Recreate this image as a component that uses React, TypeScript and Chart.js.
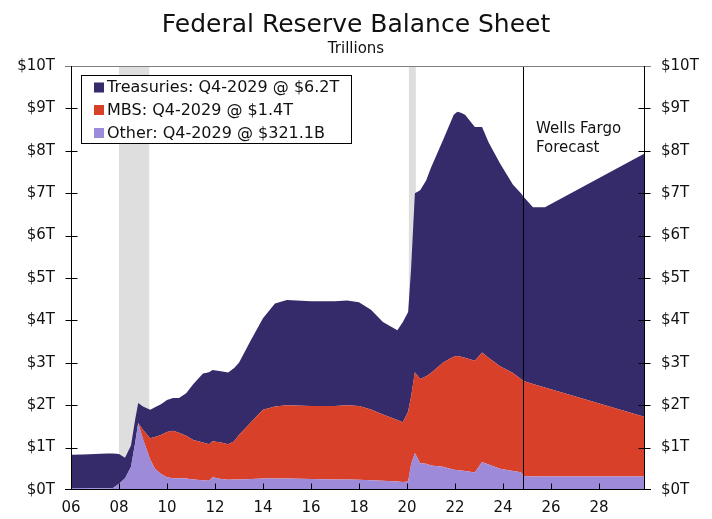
import React, { useEffect, useRef } from "react";
import { Chart, registerables } from "chart.js";

Chart.register(...registerables);

// ---- Data (trillions of dollars) ----
const dates = [
  2006.0, 2006.5, 2007.0, 2007.5, 2007.75, 2008.0, 2008.25, 2008.5, 2008.67, 2008.8,
  2009.0, 2009.3, 2009.5, 2009.75, 2010.0, 2010.25, 2010.5, 2010.8, 2011.1, 2011.5,
  2011.75, 2011.9, 2012.25, 2012.55, 2012.8, 2013.0, 2013.5, 2014.0, 2014.5, 2015.0,
  2016.0, 2017.0, 2017.5, 2018.0, 2018.5, 2019.0, 2019.6, 2019.83, 2020.05, 2020.17,
  2020.33, 2020.55, 2020.8, 2021.0, 2021.5, 2021.8, 2021.95, 2022.1, 2022.25, 2022.42,
  2022.83, 2023.13, 2023.4, 2023.88, 2024.42, 2024.75, 2024.85, 2025.25, 2025.75, 2029.92,
];

const treasuries = [
  0.78, 0.79, 0.81, 0.82, 0.81, 0.70, 0.48, 0.50, 0.55, 0.47,
  0.55, 0.67, 0.70, 0.72, 0.75, 0.77, 0.82, 1.00, 1.32, 1.63,
  1.70, 1.68, 1.68, 1.69, 1.73, 1.70, 1.94, 2.16, 2.43, 2.48,
  2.47, 2.47, 2.47, 2.45, 2.35, 2.18, 2.12, 2.36, 2.35, 3.00,
  4.22, 4.45, 4.62, 4.84, 5.25, 5.55, 5.71, 5.76, 5.76, 5.73,
  5.51, 5.32, 5.08, 4.78, 4.44, 4.38, 4.35, 4.17, 4.25, 6.22,
];

const mbs = [
  0, 0, 0, 0, 0, 0, 0, 0, 0, 0,
  0.22, 0.50, 0.75, 0.92, 1.07, 1.12, 1.07, 1.01, 0.93, 0.89,
  0.86, 0.85, 0.86, 0.84, 0.90, 1.05, 1.34, 1.62, 1.70, 1.73,
  1.72, 1.73, 1.75, 1.74, 1.67, 1.56, 1.45, 1.41, 1.65, 1.60,
  1.91, 1.99, 2.06, 2.18, 2.45, 2.60, 2.66, 2.69, 2.68, 2.67,
  2.64, 2.58, 2.52, 2.42, 2.31, 2.20, 2.24, 2.18, 2.10, 1.40,
];

const other = [
  0.05, 0.05, 0.04, 0.04, 0.05, 0.15, 0.28, 0.55, 1.10, 1.58,
  1.20, 0.72, 0.50, 0.38, 0.30, 0.28, 0.28, 0.27, 0.25, 0.23,
  0.22, 0.30, 0.26, 0.24, 0.25, 0.25, 0.26, 0.27, 0.27, 0.27,
  0.26, 0.25, 0.25, 0.24, 0.23, 0.22, 0.20, 0.19, 0.20, 0.60,
  0.87, 0.63, 0.62, 0.58, 0.55, 0.50, 0.48, 0.47, 0.46, 0.45,
  0.41, 0.66, 0.60, 0.50, 0.45, 0.42, 0.33, 0.32, 0.32, 0.32,
];

const seriesNames = ["Treasuries", "MBS", "Other"];
const legendLabels = [
  "Treasuries: Q4-2029 @ $6.2T",
  "MBS: Q4-2029 @ $1.4T",
  "Other: Q4-2029 @ $321.1B",
];
const xTickYears = [2006, 2008, 2010, 2012, 2014, 2016, 2018, 2020, 2022, 2024, 2026, 2028];
const yTickValues = [0, 1, 2, 3, 4, 5, 6, 7, 8, 9, 10];
const recessions = [
  [2008.0, 2009.26],
  [2020.08, 2020.37],
];
const forecastStart = 2024.85;
const xMin = 2006;
const xMax = 2029.92;

const COLORS = {
  Treasuries: "#352b6a",
  MBS: "#d9402a",
  Other: "#9d8bd9",
};
const FONT = "'DejaVu Sans', Verdana, sans-serif";

function pts(values: number[]) {
  return dates.map((d, i) => ({ x: d, y: values[i] }));
}

const decorPlugin = {
  id: "decor",
  beforeDatasetsDraw(chart: any) {
    const { ctx, chartArea, scales } = chart;
    const x = scales.x;
    ctx.save();
    ctx.fillStyle = "#dedede";
    for (const [a, b] of recessions) {
      const x0 = x.getPixelForValue(a);
      const x1 = x.getPixelForValue(b);
      ctx.fillRect(x0, chartArea.top, x1 - x0, chartArea.bottom - chartArea.top);
    }
    ctx.restore();
  },
  afterDatasetsDraw(chart: any) {
    const { ctx, chartArea, scales } = chart;
    const { left, right, top, bottom } = chartArea;
    const x = scales.x;
    const y = scales.y;
    ctx.save();

    // forecast line
    const fx = Math.round(x.getPixelForValue(forecastStart)) + 0.5;
    ctx.strokeStyle = "#000";
    ctx.lineWidth = 1;
    ctx.beginPath();
    ctx.moveTo(fx, top);
    ctx.lineTo(fx, bottom);
    ctx.stroke();

    ctx.fillStyle = "#111";
    ctx.font = `15px ${FONT}`;
    ctx.textAlign = "left";
    ctx.textBaseline = "alphabetic";
    ctx.fillText("Wells Fargo", fx + 12.5, 133);
    ctx.fillText("Forecast", fx + 12.5, 152);

    // top border (gray)
    ctx.strokeStyle = "#808080";
    ctx.beginPath();
    ctx.moveTo(left - 6, top + 0.5);
    ctx.lineTo(right + 6, top + 0.5);
    ctx.stroke();

    // axes
    ctx.strokeStyle = "#000";
    const lx = Math.round(left) + 0.5;
    const rx = Math.round(right) - 0.5;
    const by = Math.round(bottom) - 0.5;
    ctx.beginPath();
    ctx.moveTo(lx, top);
    ctx.lineTo(lx, bottom);
    ctx.moveTo(rx, top);
    ctx.lineTo(rx, bottom);
    ctx.moveTo(left - 6, by);
    ctx.lineTo(right + 6, by);
    ctx.stroke();

    // y ticks (crossing both axes)
    ctx.beginPath();
    for (const v of yTickValues) {
      if (v === 0 || v === 10) continue;
      const py = Math.round(y.getPixelForValue(v)) + 0.5;
      ctx.moveTo(lx - 6, py);
      ctx.lineTo(lx + 6, py);
      ctx.moveTo(rx - 6, py);
      ctx.lineTo(rx + 6, py);
    }
    // x ticks (inward)
    for (const v of xTickYears) {
      const px = Math.round(x.getPixelForValue(v)) + 0.5;
      ctx.moveTo(px, by);
      ctx.lineTo(px, by - 6);
    }
    ctx.stroke();
    ctx.restore();
  },
  afterDraw(chart: any) {
    const { ctx } = chart;
    ctx.save();
    // title
    ctx.fillStyle = "#111";
    ctx.textAlign = "center";
    ctx.textBaseline = "alphabetic";
    ctx.font = `25px ${FONT}`;
    ctx.fillText("Federal Reserve Balance Sheet", 356, 32);
    ctx.font = `15px ${FONT}`;
    ctx.fillText("Trillions", 356, 53);

    // legend
    const bx = 81.5, byy = 75.5, bw = 270, bh = 68;
    ctx.fillStyle = "#fff";
    ctx.fillRect(bx, byy, bw, bh);
    ctx.strokeStyle = "#000";
    ctx.lineWidth = 1;
    ctx.strokeRect(bx, byy, bw, bh);
    ctx.font = `16px ${FONT}`;
    ctx.textAlign = "left";
    const baselines = [92, 114.5, 137.5];
    seriesNames.forEach((name, i) => {
      ctx.fillStyle = (COLORS as any)[name];
      ctx.fillRect(94, baselines[i] - 9.5, 10, 10);
      ctx.fillStyle = "#111";
      ctx.fillText(legendLabels[i], 107, baselines[i]);
    });
    ctx.restore();
  },
};

export default function App() {
  const ref = useRef<HTMLCanvasElement | null>(null);

  useEffect(() => {
    if (!ref.current) return;
    const chart = new Chart(ref.current, {
      type: "line",
      data: {
        datasets: [
          {
            label: "Other",
            data: pts(other),
            backgroundColor: COLORS.Other,
            borderColor: "transparent",
            borderWidth: 0,
            pointRadius: 0,
            fill: "origin",
            tension: 0,
          },
          {
            label: "MBS",
            data: pts(mbs),
            backgroundColor: COLORS.MBS,
            borderColor: "transparent",
            borderWidth: 0,
            pointRadius: 0,
            fill: "-1",
            tension: 0,
          },
          {
            label: "Treasuries",
            data: pts(treasuries),
            backgroundColor: COLORS.Treasuries,
            borderColor: "transparent",
            borderWidth: 0,
            pointRadius: 0,
            fill: "-1",
            tension: 0,
          },
        ],
      },
      options: {
        responsive: false,
        animation: false,
        devicePixelRatio: 1,
        layout: { padding: { top: 66, left: 0, right: 0, bottom: 0 } },
        plugins: {
          legend: { display: false },
          title: { display: false },
          tooltip: { enabled: false },
        },
        scales: {
          x: {
            type: "linear",
            min: xMin,
            max: xMax,
            afterBuildTicks: (s: any) => {
              s.ticks = xTickYears.map((v) => ({ value: v }));
            },
            afterFit: (s: any) => {
              s.height = 29;
            },
            grid: { display: true, drawOnChartArea: false, drawTicks: false, color: "transparent" },
            border: { display: false },
            ticks: {
              padding: 9,
              autoSkip: false,
              maxRotation: 0,
              color: "#111",
              font: { family: FONT, size: 15 },
              callback: (v: any) => String(v).slice(2),
            },
          },
          y: {
            stacked: true,
            position: "left",
            min: 0,
            max: 10,
            afterBuildTicks: (s: any) => {
              s.ticks = yTickValues.map((v) => ({ value: v }));
            },
            afterFit: (s: any) => {
              s.width = 71;
            },
            grid: { display: true, drawOnChartArea: false, drawTicks: false, color: "transparent" },
            border: { display: false },
            ticks: {
              padding: 16,
              color: "#111",
              font: { family: FONT, size: 15 },
              callback: (v: any) => `$${v}T`,
            },
          },
          y2: {
            position: "right",
            min: 0,
            max: 10,
            afterBuildTicks: (s: any) => {
              s.ticks = yTickValues.map((v) => ({ value: v }));
            },
            afterFit: (s: any) => {
              s.width = 67;
            },
            grid: { display: true, drawOnChartArea: false, drawTicks: false, color: "transparent" },
            border: { display: false },
            ticks: {
              padding: 16,
              color: "#111",
              font: { family: FONT, size: 15 },
              callback: (v: any) => `$${v}T`,
            },
          },
        },
      },
      plugins: [decorPlugin],
    } as any);
    return () => chart.destroy();
  }, []);

  return (
    <div style={{ position: "absolute", left: 0, top: 0, width: 712, height: 519, background: "#fff" }}>
      <canvas ref={ref} width={712} height={519} style={{ display: "block" }} />
    </div>
  );
}
